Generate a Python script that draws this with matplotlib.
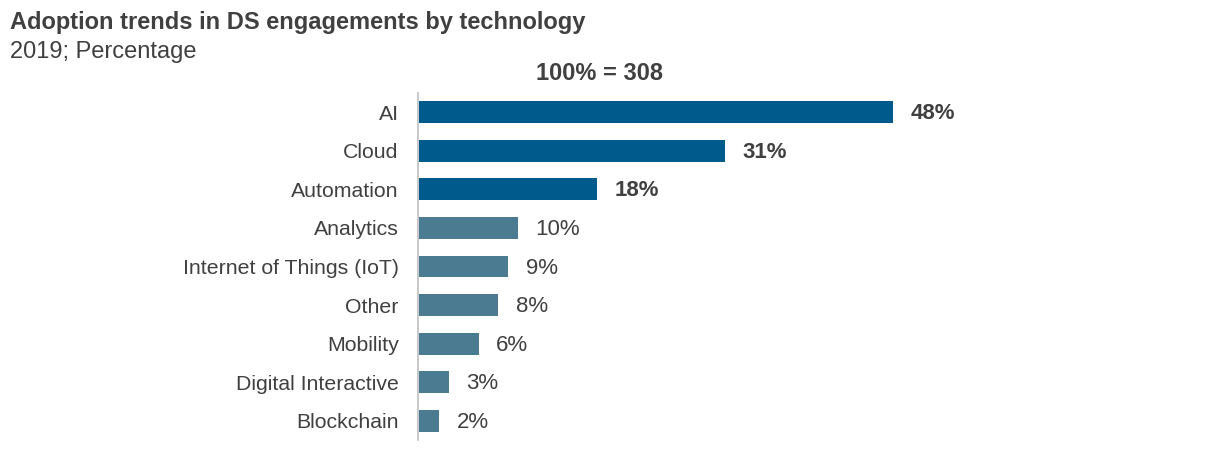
import matplotlib.pyplot as plt

plt.rcParams['font.family'] = ['Liberation Sans', 'DejaVu Sans']

categories = ['AI', 'Cloud', 'Automation', 'Analytics', 'Internet of Things (IoT)',
              'Other', 'Mobility', 'Digital Interactive', 'Blockchain']
values = [48, 31, 18, 10, 9, 8, 6, 3, 2]
highlight = [True, True, True, False, False, False, False, False, False]

dark_blue = '#005A8C'
teal = '#4B7B90'
text_col = '#404040'

fig = plt.figure(figsize=(12.13, 4.62), dpi=100)
ax = fig.add_axes([418 / 1213, 1 - 440 / 462, (893 - 418) / 1213, 347 / 462])

colors = [dark_blue if h else teal for h in highlight]
ypos = list(range(len(categories)))
ax.barh(ypos, values, height=0.57, color=colors, left=0.15)

for y, v, h in zip(ypos, values, highlight):
    ax.text(v + 1.9, y + 0.04, f'{v}%', va='center', ha='left', fontsize=16,
            fontweight='bold' if h else 'normal', color=text_col)

ax.set_xlim(0, 48.15)
ax.set_ylim(len(categories) - 0.5, -0.5)
ax.set_yticks(ypos)
ax.set_yticklabels(categories, fontsize=15.3, color=text_col)
ax.tick_params(axis='y', length=0, pad=14)
ax.set_xticks([])
for s in ['top', 'right', 'bottom']:
    ax.spines[s].set_visible(False)
ax.spines['left'].set_color('#BFBFBF')
ax.spines['left'].set_linewidth(1.2)

fig.text(10 / 1213, 1 - 22 / 462, 'Adoption trends in DS engagements by technology',
         fontsize=17, fontweight='bold', color=text_col, va='center', ha='left')
fig.text(10 / 1213, 1 - 52 / 462, '2019; Percentage',
         fontsize=17, color=text_col, va='center', ha='left')
fig.text(600 / 1213, 1 - 74 / 462, '100% = 308',
         fontsize=17, fontweight='bold', color=text_col, va='center', ha='center')

fig.savefig('out.png', dpi=100)
